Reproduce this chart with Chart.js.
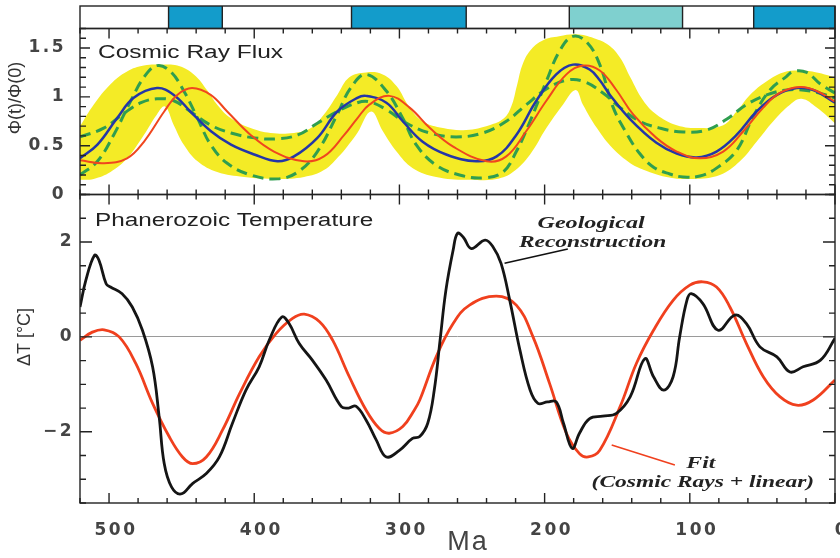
<!DOCTYPE html>
<html>
<head>
<meta charset="utf-8">
<script src="https://cdn.jsdelivr.net/npm/chart.js@4.4.1/dist/chart.umd.min.js"></script>
<style>
  html, body { margin: 0; padding: 0; background: #fff; }
  canvas { display: block; }
</style>
</head>
<body>
<canvas id="chart" width="840" height="558"></canvas>
<script>
// ages in Ma, the axis runs from 520 Ma on the left to today on the right
const maTicks = [500, 400, 300, 200, 100, 0];
const fluxTicks = [0, 0.5, 1, 1.5];
const tempTicks = [-2, 0, 2];

// climate strip on top (cold epochs)
const epochFrom = [459, 333, 183, 56];
const epochTo = [422, 254, 105, 0];
const epochKind = ['ice', 'ice', 'cool', 'ice'];

// cosmic ray flux, [Ma, phi(t)/phi(0)]
const bandUpper = [[520,0.70],[510.6,0.92],[499,1.13],[487.6,1.26],[476,1.32],[464.6,1.33],[453,1.32],[441.6,1.23],[432,1.06],[425.5,0.92],[416,0.78],[402.5,0.68],[388.8,0.63],[372.6,0.63],[361,0.68],[352,0.82],[342.8,1.02],[334.5,1.20],[323,1.25],[311.5,1.23],[302,1.11],[293,0.89],[284,0.75],[270,0.68],[254,0.66],[238,0.71],[228,0.78],[223,0.90],[219,1.12],[215,1.34],[209,1.49],[201,1.58],[190,1.62],[178,1.64],[166,1.60],[156,1.53],[148,1.40],[141,1.20],[132,0.96],[123,0.82],[109,0.71],[93,0.68],[77,0.71],[67.8,0.85],[58.6,1.02],[47,1.16],[35.7,1.25],[24,1.27],[12.6,1.25],[0,1.20]];
const bandLower = [[520,0.15],[510.6,0.16],[499,0.23],[487.6,0.37],[476,0.61],[467,0.82],[461.5,0.90],[455.4,0.71],[448.5,0.51],[439,0.34],[425.5,0.23],[407,0.18],[384,0.16],[365.7,0.18],[352,0.25],[340.5,0.41],[334.5,0.52],[329,0.63],[319.5,0.85],[311.5,0.65],[302,0.44],[290.8,0.27],[274.7,0.18],[254,0.15],[233,0.16],[221.8,0.23],[210,0.41],[198.8,0.68],[187.4,0.92],[178.6,1.07],[173.6,0.92],[164,0.68],[153,0.47],[141,0.32],[134.5,0.27],[116,0.18],[97.7,0.16],[79.3,0.20],[65.5,0.34],[54,0.54],[42.5,0.75],[31,0.92],[23,0.98],[12.6,0.89],[0,0.73]];
const fluxHigh = [[520,0.20],[508,0.34],[496.8,0.61],[485,0.96],[476,1.20],[467,1.32],[457.7,1.26],[448.5,1.06],[439,0.78],[430,0.51],[418.6,0.32],[402.5,0.20],[384,0.16],[370,0.23],[356.5,0.44],[342.8,0.82],[333.6,1.09],[323,1.23],[309,1.06],[297.7,0.78],[288.5,0.51],[274.7,0.30],[258.6,0.20],[242.5,0.17],[228.7,0.23],[219.5,0.44],[210,0.75],[198.8,1.16],[189.7,1.47],[180.5,1.62],[171,1.56],[162,1.33],[153,0.90],[143.7,0.63],[134.5,0.42],[125,0.28],[113.8,0.21],[104.6,0.18],[93,0.19],[81.6,0.27],[67.8,0.45],[56.3,0.80],[44.8,1.07],[33.3,1.21],[28.8,1.26],[19.5,1.25],[10,1.13],[0,1.04]];
const fluxLow = [[520,0.59],[503.7,0.68],[489.9,0.83],[478,0.94],[467,0.98],[455.4,0.96],[444,0.85],[430,0.71],[416,0.63],[400,0.58],[384,0.57],[370,0.61],[356.5,0.73],[342.8,0.85],[329,0.94],[321,0.95],[309,0.87],[295,0.73],[279,0.63],[261,0.59],[242.5,0.63],[226.4,0.75],[212.6,0.92],[198.8,1.08],[185,1.17],[173.6,1.16],[159.8,1.04],[148,0.89],[134.5,0.75],[120.7,0.68],[104.6,0.64],[88.5,0.66],[74.7,0.77],[61,0.92],[47,1.02],[33,1.07],[17,1.06],[0,0.99]];
const fluxBlue = [[520,0.37],[508,0.51],[494.5,0.78],[483,0.99],[467,1.09],[455.4,1.02],[444,0.85],[430,0.65],[416,0.51],[400,0.41],[384,0.34],[372.6,0.39],[356.5,0.58],[342.8,0.85],[329,0.99],[323,1.01],[309,0.94],[297.7,0.75],[284,0.54],[267.8,0.41],[247,0.34],[233,0.39],[219.5,0.61],[205.7,0.96],[192,1.23],[180.5,1.33],[169,1.28],[162,1.17],[155,1.02],[141,0.77],[123,0.53],[109,0.42],[95.4,0.38],[81.6,0.44],[67.8,0.61],[54,0.85],[40,1.02],[26.4,1.09],[15,1.07],[0,0.94]];
const fluxRed = [[520,0.35],[503.7,0.32],[487.6,0.37],[476,0.54],[462,0.85],[453,1.02],[442.8,1.09],[430,1.02],[418.6,0.85],[402.5,0.61],[386.4,0.44],[365.7,0.34],[352,0.39],[338,0.61],[329,0.78],[320.7,0.92],[307,1.01],[293,0.89],[279,0.68],[263,0.49],[240,0.34],[226.4,0.39],[212.6,0.65],[198.8,0.96],[185,1.23],[173.6,1.32],[162,1.27],[150.6,1.07],[139,0.82],[123,0.58],[109,0.44],[93,0.37],[77,0.44],[63,0.65],[49.4,0.89],[38,1.04],[24,1.10],[12.6,1.06],[0,0.95]];

// phanerozoic temperature, [Ma, delta T in C]
const tempGeo = [[520,0.63],[516,1.19],[510,1.72],[507,1.62],[502,1.12],[499,1.05],[491,0.91],[484,0.63],[477,0.14],[470,-0.63],[465.5,-1.68],[462,-2.67],[457,-3.16],[450.5,-3.31],[442.5,-3.09],[433,-2.88],[424,-2.53],[415,-1.82],[405.7,-1.12],[396.6,-0.63],[389.7,-0.07],[381,0.42],[376,0.28],[369,-0.14],[360,-0.49],[350.5,-0.91],[340,-1.47],[335,-1.5],[330,-1.46],[323,-1.75],[316,-2.17],[309,-2.53],[300,-2.39],[291,-2.14],[286,-2.1],[280.5,-1.82],[276,-1.12],[272,-0.07],[268,0.98],[263,1.83],[260,2.18],[256,2.1],[250.5,1.86],[241,2.04],[235.6,1.9],[230,1.55],[224,0.77],[217,-0.28],[210,-1.12],[204.6,-1.4],[198,-1.37],[192,-1.37],[187,-1.82],[181,-2.35],[176,-2.03],[169,-1.72],[160,-1.67],[150.5,-1.61],[141,-1.26],[131,-0.46],[125,-0.84],[118,-1.12],[111.5,-0.84],[107,0],[102,0.77],[99,0.91],[91,0.7],[80.5,0.14],[69,0.46],[61,0.28],[51.7,-0.21],[40,-0.42],[31,-0.74],[22,-0.63],[10,-0.49],[0,-0.03]];
const tempFit = [[520,-0.07],[511.5,0.1],[503.4,0.15],[493,0],[481.6,-0.56],[470,-1.4],[458.6,-2.1],[449.4,-2.53],[442.5,-2.67],[433,-2.53],[421.8,-1.96],[410,-1.19],[396.6,-0.42],[385,0.07],[373.6,0.39],[365.5,0.48],[355,0.32],[346,-0.07],[334.5,-0.84],[323,-1.54],[313.8,-1.93],[307,-2.03],[297.7,-1.89],[289.7,-1.54],[286,-1.33],[274.7,-0.42],[263,0.28],[251.7,0.67],[233.3,0.86],[219.5,0.67],[208,0],[196.6,-0.98],[185,-2.03],[176,-2.46],[170,-2.53],[162,-2.39],[148,-1.47],[136.8,-0.56],[125,0.14],[111.5,0.77],[100,1.09],[91,1.16],[81.6,1.05],[72.4,0.63],[61,-0.14],[49.4,-0.84],[38,-1.26],[26.4,-1.44],[15,-1.33],[0,-0.91]];

const tickFont = { family: 'DejaVu Sans', size: 17, weight: 'bold' };

function stretchText(ctx, text, x, y, align, sx) {
  ctx.save();
  ctx.translate(x, y);
  ctx.scale(sx, 1);
  ctx.textAlign = align;
  ctx.fillText(text, 0, 0);
  ctx.restore();
}

const panels = {
  id: 'panels',
  beforeDraw(chart) {
    chart.ctx.letterSpacing = '2.5px';
  },
  afterDatasetsDraw(chart) {
    const ctx = chart.ctx, x = chart.scales.x, area = chart.chartArea;
    const s = chart.scales.yS;
    ctx.save();
    ctx.strokeStyle = '#222';
    ctx.lineWidth = 1.4;

    // top strip
    epochFrom.forEach((from, i) => {
      const x0 = x.getPixelForValue(from), x1 = x.getPixelForValue(epochTo[i]);
      ctx.fillStyle = epochKind[i] === 'ice' ? '#139ccb' : '#7fd0cf';
      ctx.fillRect(x0, s.top, x1 - x0, s.bottom - s.top);
      ctx.beginPath();
      ctx.moveTo(x0, s.top); ctx.lineTo(x0, s.bottom);
      ctx.moveTo(x1, s.top); ctx.lineTo(x1, s.bottom);
      ctx.stroke();
    });
    ctx.strokeRect(area.left, s.top, area.right - area.left, s.bottom - s.top);

    // frames with inward ticks
    const specs = [
      { id: 'yF', step: 0.1, major: fluxTicks, majLen: 10, minLen: 6 },
      { id: 'yT', step: 0.5, major: tempTicks, majLen: 12, minLen: 6 }
    ];
    specs.forEach(sp => {
      const y = chart.scales[sp.id];
      ctx.strokeRect(area.left, y.top, area.right - area.left, y.bottom - y.top);
      ctx.beginPath();
      for (let ma = 0; ma <= 520; ma += 20) {
        const px = x.getPixelForValue(ma);
        const len = ma % 100 === 0 ? 10 : 5;
        ctx.moveTo(px, y.bottom); ctx.lineTo(px, y.bottom - len);
        ctx.moveTo(px, y.top); ctx.lineTo(px, y.top + len);
      }
      const n = Math.round((y.max - y.min) / sp.step);
      for (let k = 0; k <= n; k++) {
        const v = y.min + k * sp.step;
        const py = y.getPixelForValue(v);
        const len = sp.major.some(m => Math.abs(m - v) < 1e-6) ? sp.majLen : sp.minLen;
        ctx.moveTo(area.left, py); ctx.lineTo(area.left + len, py);
        ctx.moveTo(area.right, py); ctx.lineTo(area.right - len, py);
      }
      ctx.stroke();
    });
    ctx.restore();
  },
  afterDraw(chart) {
    const ctx = chart.ctx, x = chart.scales.x, area = chart.chartArea;
    const f = chart.scales.yF, t = chart.scales.yT;
    ctx.save();
    ctx.letterSpacing = '0px';
    ctx.fillStyle = '#222';
    ctx.textBaseline = 'alphabetic';

    ctx.font = '18px "Liberation Sans"';
    stretchText(ctx, 'Cosmic Ray Flux', area.left + 18, f.top + 29, 'left', 1.36);
    stretchText(ctx, 'Phanerozoic Temperature', area.left + 15, t.top + 31, 'left', 1.35);

    // axis titles
    ctx.fillStyle = '#444';
    ctx.font = '27px "Liberation Sans"';
    ctx.letterSpacing = '2px';
    ctx.textAlign = 'center';
    ctx.textBaseline = 'middle';
    ctx.fillText('Ma', 468, 543);
    ctx.letterSpacing = '0px';

    ctx.font = '18px "Liberation Sans"';
    ctx.fillStyle = '#333';
    ctx.save();
    ctx.translate(16, 98);
    ctx.rotate(-Math.PI / 2);
    ctx.fillText('\u03A6(t)/\u03A6(0)', 0, 0);
    ctx.restore();
    ctx.save();
    ctx.translate(25, 337);
    ctx.rotate(-Math.PI / 2);
    ctx.fillText('\u0394T [\u00B0C]', 0, 0);
    ctx.restore();

    // curve annotations
    ctx.textBaseline = 'alphabetic';
    ctx.font = 'italic bold 17px "Liberation Serif"';
    ctx.fillStyle = '#222';
    stretchText(ctx, 'Geological', x.getPixelForValue(168), t.getPixelForValue(2.29), 'center', 1.42);
    stretchText(ctx, 'Reconstruction', x.getPixelForValue(167), t.getPixelForValue(1.89), 'center', 1.38);
    stretchText(ctx, 'Fit', x.getPixelForValue(92.4), t.getPixelForValue(-2.76), 'center', 1.4);
    stretchText(ctx, '(Cosmic Rays + linear)', x.getPixelForValue(91), t.getPixelForValue(-3.16), 'center', 1.38);

    ctx.lineWidth = 1.6;
    ctx.strokeStyle = '#111';
    ctx.beginPath();
    ctx.moveTo(x.getPixelForValue(227.6), t.getPixelForValue(1.55));
    ctx.lineTo(x.getPixelForValue(184), t.getPixelForValue(1.85));
    ctx.stroke();
    ctx.strokeStyle = '#f0401e';
    ctx.beginPath();
    ctx.moveTo(x.getPixelForValue(153.8), t.getPixelForValue(-2.28));
    ctx.lineTo(x.getPixelForValue(110.3), t.getPixelForValue(-2.7));
    ctx.stroke();
    ctx.restore();
  }
};

function line(data, axis, color, width, extra) {
  return Object.assign({
    data: data, yAxisID: axis, borderColor: color, borderWidth: width,
    pointRadius: 0, fill: false, tension: 0.4
  }, extra || {});
}

function fixedTicks(values) {
  return s => { s.ticks = values.map(v => ({ value: v })); };
}
function fitY(s) { s.width = 80; s.paddingTop = 0; s.paddingBottom = 0; }

new Chart(document.getElementById('chart'), {
  type: 'line',
  data: {
    datasets: [
      line(bandUpper, 'yF', 'rgba(0,0,0,0)', 0, { fill: 1, backgroundColor: '#f4eb26', order: 10 }),
      line(bandLower, 'yF', 'rgba(0,0,0,0)', 0, { order: 10 }),
      line(fluxHigh, 'yF', '#2f9e4f', 3, { borderDash: [11, 6], order: 5 }),
      line(fluxLow, 'yF', '#2f9e4f', 3, { borderDash: [11, 6], order: 5 }),
      line(fluxBlue, 'yF', '#2436a8', 2.5, { order: 3 }),
      line(fluxRed, 'yF', '#f0461e', 2, { order: 2 }),
      line(tempFit, 'yT', '#f0401e', 2.8, { order: 2 }),
      line(tempGeo, 'yT', '#151515', 2.8, { order: 1 })
    ]
  },
  options: {
    responsive: false,
    animation: false,
    devicePixelRatio: 1,
    layout: { padding: { top: 6, right: 5, bottom: 0, left: 0 } },
    plugins: { legend: { display: false }, tooltip: { enabled: false } },
    scales: {
      x: {
        type: 'linear', position: 'bottom', min: 0, max: 520, reverse: true,
        grid: { display: false }, border: { display: false },
        afterBuildTicks: fixedTicks(maTicks),
        afterFit: s => { s.height = 55; s.paddingLeft = 0; s.paddingRight = 0; },
        ticks: { autoSkip: false, maxRotation: 0, padding: 9, labelOffset: 7, color: '#444', font: tickFont }
      },
      yT: {
        axis: 'y', type: 'linear', position: 'left', stack: 'v', stackWeight: 308.5,
        min: -3.5, max: 3,
        grid: { drawTicks: false, lineWidth: 1, color: c => c.tick && c.tick.value === 0 ? '#9a9a9a' : 'rgba(0,0,0,0)' },
        border: { display: false },
        afterBuildTicks: fixedTicks(tempTicks),
        afterFit: fitY,
        ticks: { autoSkip: false, padding: 6, color: '#444', font: tickFont,
                 callback: v => v < 0 ? '\u2212' + Math.abs(v) : String(v) }
      },
      yF: {
        axis: 'y', type: 'linear', position: 'left', stack: 'v', stackWeight: 166,
        min: 0, max: 1.7,
        grid: { display: false }, border: { display: false },
        afterBuildTicks: fixedTicks(fluxTicks),
        afterFit: fitY,
        ticks: { autoSkip: false, padding: 6, color: '#444', font: tickFont, callback: v => String(v) }
      },
      yS: {
        axis: 'y', type: 'linear', position: 'left', stack: 'v', stackWeight: 22.5,
        min: 0, max: 1,
        grid: { display: false }, border: { display: false },
        afterFit: fitY,
        ticks: { display: false }
      }
    }
  },
  plugins: [panels]
});
</script>
</body>
</html>
